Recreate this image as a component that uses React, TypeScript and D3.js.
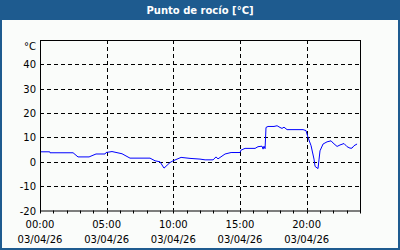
import React from "react";
import * as d3 from "d3";

const TITLE = "Punto de rocío [°C]";
const UNIT = "°C";
const Y_TICKS = [-20, -10, 0, 10, 20, 30, 40];
const X_TICK_HOURS = [0, 5, 10, 15, 20];
const X_TICK_LABELS = ["00:00", "05:00", "10:00", "15:00", "20:00"];
const DATE_LABEL = "03/04/26";
const HOURS = [
  0, 0.73, 0.75, 2.48, 2.85, 3.68, 4.2, 4.88, 4.95, 5.4, 6.15, 6.75, 8.25, 8.63, 9.0, 9.3,
  9.75, 9.98, 10.58, 11.25, 12.0, 12.38, 12.98, 13.2, 13.35, 13.88, 14.33, 15.0, 15.08,
  15.38, 16.13, 16.35, 16.65, 16.73, 16.8, 16.88, 16.95, 17.1, 17.55, 17.78, 18.0, 18.15,
  18.3, 18.53, 19.73, 19.95, 20.1, 20.33, 20.55, 20.63, 20.85, 20.93, 21.0, 21.23, 21.53,
  21.83, 21.98, 22.28, 22.5, 22.8, 23.03, 23.25, 23.4, 23.55, 23.78,
];
const VALUES = [
  4.1, 4.1, 3.7, 3.7, 2.0, 2.0, 3.2, 3.2, 3.8, 4.2, 3.3, 1.5, 1.5, 0.4, 0.0, -2.6,
  -0.3, 0.4, 1.8, 1.4, 1.1, 0.8, 0.8, 2.0, 1.2, 3.2, 3.8, 3.8, 4.8,
  5.5, 5.5, 6.2, 6.4, 5.2, 6.4, 5.4, 14.1, 14.5, 14.5, 14.8, 14.1, 13.7,
  14.2, 13.2, 13.2, 12.8, 10.0, 6.6, 1.1, -1.9, -2.8, 1.1, 4.5, 7.3, 8.2,
  8.6, 7.7, 6.3, 6.9, 7.5, 6.2, 5.6, 5.6, 6.6, 7.3,
];

export default function App() {
  const W = 400, H = 250;
  const left = 40, right = 360, top = 40, bottom = 210.5;
  const x = d3.scaleLinear().domain([0, 24]).range([left, right]);
  const y = d3.scaleLinear().domain([-20, 50]).range([bottom, top]);
  const data = HOURS.map((h, i) => [h, VALUES[i]] as [number, number]);
  const line = d3.line<[number, number]>().x(d => x(d[0])).y(d => y(d[1]));
  const font = "'DejaVu Sans', Verdana, sans-serif";
  const hourTicks = d3.range(0, 25);
  return (
    <div style={{ position: "fixed", left: 0, top: 0 }}>
      <svg width={W} height={H} style={{ display: "block" }} fontFamily={font}>
        <rect x={0} y={0} width={W} height={H} fill="#fafcfa" />
        <rect x={0} y={0} width={W} height={20} fill="#1e5b8f" />
        <rect x={1} y={1} width={W - 2} height={H - 2} fill="none" stroke="#1e5b8f" strokeWidth={2} />
        <text x={200} y={14} textAnchor="middle" fill="#fff" fontSize={10} fontWeight="bold">{TITLE}</text>
        {Y_TICKS.filter(t => t > -20).map(t => (
          <line key={"gy" + t} x1={left} x2={right} y1={Math.round(y(t)) + 0.5} y2={Math.round(y(t)) + 0.5}
            stroke="#000" strokeDasharray="4,3" />
        ))}
        {X_TICK_HOURS.filter(h => h > 0).map(h => (
          <line key={"gx" + h} x1={Math.round(x(h)) + 0.5} x2={Math.round(x(h)) + 0.5} y1={top} y2={bottom}
            stroke="#000" strokeDasharray="4,3" />
        ))}
        <path d={line(data) || ""} fill="none" stroke="#0000ff" strokeWidth={1} />
        <rect x={left + 0.5} y={top + 0.5} width={right - left} height={bottom - top} fill="none" stroke="#000" />
        {hourTicks.map(h => (
          <line key={"t" + h} x1={Math.round(x(h)) + 0.5} x2={Math.round(x(h)) + 0.5} y1={bottom} y2={bottom + 3} stroke="#000" />
        ))}
        {Y_TICKS.map(t => (
          <text key={"yl" + t} x={36} y={y(t) + 4} textAnchor="end" fontSize={10} fill="#000">{t}</text>
        ))}
        <text x={36} y={50} textAnchor="end" fontSize={10} fill="#000">{UNIT}</text>
        {X_TICK_HOURS.map((h, i) => (
          <g key={"xl" + h}>
            <text x={x(h)} y={228} textAnchor="middle" fontSize={10} fill="#000">{X_TICK_LABELS[i]}</text>
            <text x={x(h)} y={243} textAnchor="middle" fontSize={10} fill="#000">{DATE_LABEL}</text>
          </g>
        ))}
      </svg>
    </div>
  );
}
